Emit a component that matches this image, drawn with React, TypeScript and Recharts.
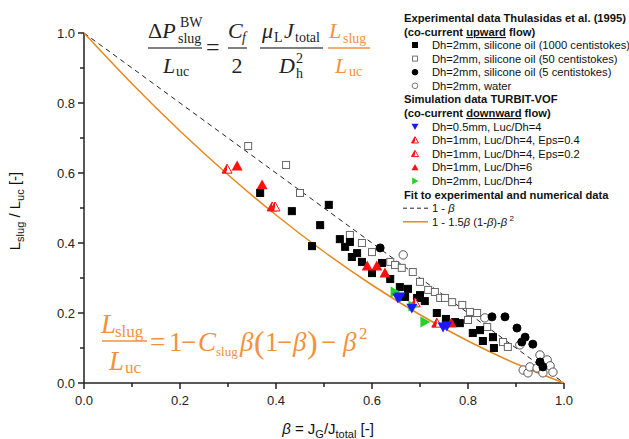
import React from "react";
import { ScatterChart, Scatter, XAxis, YAxis } from "recharts";

// beta = J_G / J_total, l = L_slug / L_uc
const oil1000 = [
  [0.367, 0.543], [0.433, 0.491], [0.475, 0.391], [0.492, 0.451], [0.51, 0.509],
  [0.533, 0.411], [0.544, 0.389], [0.554, 0.403], [0.558, 0.36], [0.569, 0.371],
  [0.579, 0.346], [0.6, 0.314], [0.621, 0.343], [0.638, 0.297], [0.658, 0.274],
  [0.669, 0.246], [0.675, 0.269], [0.694, 0.243], [0.7, 0.251], [0.71, 0.234],
  [0.735, 0.2], [0.754, 0.183], [0.773, 0.174], [0.783, 0.171], [0.81, 0.143],
  [0.825, 0.151], [0.831, 0.12], [0.852, 0.131], [0.854, 0.1],
];
const oil50 = [
  [0.342, 0.677], [0.421, 0.623], [0.45, 0.543], [0.554, 0.423], [0.579, 0.4],
  [0.6, 0.374], [0.638, 0.346], [0.648, 0.337], [0.662, 0.329], [0.685, 0.317],
  [0.7, 0.289], [0.717, 0.266], [0.731, 0.26], [0.742, 0.243], [0.752, 0.243],
  [0.767, 0.231], [0.788, 0.223], [0.8, 0.18], [0.804, 0.203], [0.819, 0.2],
  [0.84, 0.16], [0.873, 0.117], [0.883, 0.103],
];
const oil5 = [
  [0.617, 0.386], [0.85, 0.189], [0.877, 0.189], [0.902, 0.157], [0.912, 0.117],
  [0.919, 0.131], [0.935, 0.111], [0.95, 0.06], [0.956, 0.046],
];
const water = [
  [0.665, 0.366], [0.835, 0.186], [0.908, 0.109], [0.915, 0.037], [0.925, 0.029],
  [0.929, 0.046], [0.944, 0.043], [0.95, 0.08], [0.956, 0.029], [0.965, 0.066],
  [0.971, 0.049], [0.977, 0.031],
];
const sim05 = [[0.654, 0.243], [0.658, 0.246], [0.683, 0.214], [0.748, 0.16], [0.756, 0.163]];
const sim1Eps04 = [[0.298, 0.611], [0.392, 0.503], [0.735, 0.171]];
const sim1Eps02 = [[0.398, 0.503], [0.69, 0.229]];
const sim1Luc6 = [[0.319, 0.62], [0.371, 0.566], [0.59, 0.334], [0.61, 0.334], [0.627, 0.314], [0.765, 0.171]];
const sim2 = [[0.648, 0.26], [0.685, 0.22], [0.71, 0.174]];

const fitLinear = [[0, 1], [1, 0]];
const fitSlug = [
  [0, 1], [0.1, 0.855], [0.2, 0.72], [0.3, 0.595], [0.4, 0.48], [0.5, 0.375],
  [0.6, 0.28], [0.7, 0.195], [0.8, 0.12], [0.9, 0.055], [1, 0],
];
const axisTicks = [0, 0.1, 0.2, 0.3, 0.4, 0.5, 0.6, 0.7, 0.8, 0.9, 1];

const toRows = (pts: number[][]) => pts.map(([b, l]) => ({ b, l }));

const ORANGE = "#e5891f";
const ORANGE_TEXT = "#f3923a";
const BLUE = "#1a1aff";
const RED = "#ff1010";
const GREEN = "#27d027";
const SANS = "'Liberation Sans', Arial, sans-serif";
const SERIF = "'Liberation Serif', 'Times New Roman', serif";

// marker drawers, shared by plot and legend
const square = (fill: string, stroke: string, s: number) => (p: any) => (
  <rect x={p.cx - s / 2} y={p.cy - s / 2} width={s} height={s} fill={fill} stroke={stroke} strokeWidth={1} />
);
const circle = (fill: string, stroke: string, r: number) => (p: any) => (
  <circle cx={p.cx} cy={p.cy} r={r} fill={fill} stroke={stroke} strokeWidth={1} />
);
const triUp = (color: string, s: number) => (p: any) => (
  <polygon points={`${p.cx},${p.cy - s} ${p.cx + s},${p.cy + s * 0.8} ${p.cx - s},${p.cy + s * 0.8}`} fill={color} />
);
const triDown = (color: string, s: number) => (p: any) => (
  <polygon points={`${p.cx - s},${p.cy - s * 0.8} ${p.cx + s},${p.cy - s * 0.8} ${p.cx},${p.cy + s}`} fill={color} />
);
const triRight = (color: string, s: number) => (p: any) => (
  <polygon points={`${p.cx - s * 0.8},${p.cy - s} ${p.cx + s},${p.cy} ${p.cx - s * 0.8},${p.cy + s}`} fill={color} />
);
const triHalf = (color: string, s: number) => (p: any) => (
  <g>
    <polygon points={`${p.cx},${p.cy - s} ${p.cx + s},${p.cy + s * 0.8} ${p.cx - s},${p.cy + s * 0.8}`} fill="#fff" stroke={color} strokeWidth={1} />
    <polygon points={`${p.cx},${p.cy - s} ${p.cx - s},${p.cy + s * 0.8} ${p.cx - s * 0.2},${p.cy + s * 0.8} ${p.cx},${p.cy}`} fill={color} />
  </g>
);
const noDot = () => <g />;

const XTick = (props: any) => {
  const { x, y, payload } = props;
  const major = Math.round(payload.value * 10) % 2 === 0;
  return (
    <g>
      <line x1={x} x2={x} y1={y} y2={y + (major ? 6 : 4)} stroke="#222" strokeWidth={1.5} />
      {major && (
        <text x={x} y={y + 22} textAnchor="middle" fontFamily={SANS} fontSize={13} fill="#222">
          {payload.value.toFixed(1)}
        </text>
      )}
    </g>
  );
};

const YTick = (props: any) => {
  const { x, y, payload } = props;
  const major = Math.round(payload.value * 10) % 2 === 0;
  return (
    <g>
      <line x1={x - (major ? 6 : 4)} x2={x} y1={y} y2={y} stroke="#222" strokeWidth={1.5} />
      {major && (
        <text x={x - 9} y={y + 4.5} textAnchor="end" fontFamily={SANS} fontSize={13} fill="#222">
          {payload.value.toFixed(1)}
        </text>
      )}
    </g>
  );
};

function LegendBox() {
  const hx = 404;
  const sx = 415;
  const tx = 432;
  const step = 13.6;
  const fs = 11.2;
  const c = (i: number) => 45 + i * step;
  const txt = (i: number, s: React.ReactNode, bold = false, x = tx) => (
    <text x={x} y={c(i) + 4} fontFamily={SANS} fontSize={fs} fontWeight={bold ? 700 : 400} fill="#111">
      {s}
    </text>
  );
  return (
    <g>
      <text x={hx} y={22} fontFamily={SANS} fontSize={fs} fontWeight={700} fill="#111">
        Experimental data Thulasidas et al. (1995)
      </text>
      <text x={hx} y={36} fontFamily={SANS} fontSize={fs} fontWeight={700} fill="#111">
        (co-current <tspan style={{ textDecoration: "underline" }}>upward</tspan> flow)
      </text>
      {square("#000", "#000", 5)({ cx: sx, cy: c(0) })}
      {txt(0, "Dh=2mm, silicone oil (1000 centistokes)")}
      {square("#fff", "#777", 5)({ cx: sx, cy: c(1) })}
      {txt(1, "Dh=2mm, silicone oil (50 centistokes)")}
      {circle("#000", "#000", 2.8)({ cx: sx, cy: c(2) })}
      {txt(2, "Dh=2mm, silicone oil (5 centistokes)")}
      {circle("#fff", "#777", 2.8)({ cx: sx, cy: c(3) })}
      {txt(3, "Dh=2mm, water")}
      {txt(4, "Simulation data TURBIT-VOF", true, hx)}
      <text x={hx} y={c(5) + 4} fontFamily={SANS} fontSize={fs} fontWeight={700} fill="#111">
        (co-current <tspan style={{ textDecoration: "underline" }}>downward</tspan> flow)
      </text>
      {triDown(BLUE, 3.5)({ cx: sx, cy: c(6) })}
      {txt(6, "Dh=0.5mm, Luc/Dh=4")}
      {triHalf(RED, 3.5)({ cx: sx, cy: c(7) })}
      {txt(7, "Dh=1mm, Luc/Dh=4, Eps=0.4")}
      {triHalf(RED, 3.5)({ cx: sx, cy: c(8) })}
      {txt(8, "Dh=1mm, Luc/Dh=4, Eps=0.2")}
      {triUp(RED, 3.5)({ cx: sx, cy: c(9) })}
      {txt(9, "Dh=1mm, Luc/Dh=6")}
      {triRight(GREEN, 3.5)({ cx: sx, cy: c(10) })}
      {txt(10, "Dh=2mm, Luc/Dh=4")}
      {txt(11, "Fit to experimental and numerical data", true, hx)}
      <line x1={403} x2={428} y1={c(12)} y2={c(12)} stroke="#222" strokeWidth={1} strokeDasharray="4 3" />
      <text x={tx} y={c(12) + 4} fontFamily={SANS} fontSize={fs} fill="#111">
        1 - <tspan fontStyle="italic">β</tspan>
      </text>
      <line x1={403} x2={428} y1={c(13)} y2={c(13)} stroke={ORANGE} strokeWidth={1.5} />
      <text x={tx} y={c(13) + 4} fontFamily={SANS} fontSize={fs} fill="#111">
        1 - 1.5<tspan fontStyle="italic">β</tspan> (1-<tspan fontStyle="italic">β</tspan>)-<tspan fontStyle="italic">β</tspan>
        <tspan fontSize={8} dy={-5}> 2</tspan>
      </text>
    </g>
  );
}

function Equations() {
  const dark = "#222";
  return (
    <g fontFamily={SERIF}>
      {/* pressure drop relation */}
      <text x={148} y={38} fontSize={22} fill={dark}>
        Δ<tspan fontStyle="italic">P</tspan>
      </text>
      <text x={180} y={27} fontSize={14} fill={dark}>BW</text>
      <text x={178} y={43} fontSize={14} fill={dark}>slug</text>
      <line x1={148} x2={202} y1={48} y2={48} stroke="#555" strokeWidth={1.5} />
      <text x={163} y={73} fontSize={22} fontStyle="italic" fill={dark}>L</text>
      <text x={176} y={76} fontSize={14} fill={dark}>uc</text>
      <text x={206} y={55} fontSize={24} fill={dark}>=</text>
      <text x={228} y={38} fontSize={22} fontStyle="italic" fill={dark}>C</text>
      <text x={242} y={42} fontSize={14} fontStyle="italic" fill={dark}>f</text>
      <line x1={228} x2={247} y1={48} y2={48} stroke="#555" strokeWidth={1.5} />
      <text x={237} y={73} fontSize={22} textAnchor="middle" fill={dark}>2</text>
      <text x={262} y={38} fontSize={22} fontStyle="italic" fill={dark}>μ</text>
      <text x={274} y={42} fontSize={14} fill={dark}>L</text>
      <text x={284} y={38} fontSize={22} fontStyle="italic" fill={dark}>J</text>
      <text x={295} y={42} fontSize={14} fill={dark}>total</text>
      <line x1={260} x2={323} y1={48} y2={48} stroke="#555" strokeWidth={1.5} />
      <text x={279} y={73} fontSize={22} fontStyle="italic" fill={dark}>D</text>
      <text x={296} y={63} fontSize={14} fill={dark}>2</text>
      <text x={296} y={78} fontSize={14} fill={dark}>h</text>
      <text x={329} y={38} fontSize={22} fontStyle="italic" fill={ORANGE_TEXT}>L</text>
      <text x={343} y={43} fontSize={14} fill={ORANGE_TEXT}>slug</text>
      <line x1={328} x2={370} y1={48} y2={48} stroke={ORANGE_TEXT} strokeWidth={1.5} />
      <text x={335} y={73} fontSize={22} fontStyle="italic" fill={ORANGE_TEXT}>L</text>
      <text x={349} y={76} fontSize={14} fill={ORANGE_TEXT}>uc</text>

      {/* slug length relation */}
      <g fill={ORANGE_TEXT}>
        <text x={101} y={333} fontSize={27} fontStyle="italic">L</text>
        <text x={115} y={337} fontSize={17}>slug</text>
        <line x1={102} x2={147} y1={341} y2={341} stroke={ORANGE_TEXT} strokeWidth={1.5} />
        <text x={109} y={370} fontSize={27} fontStyle="italic">L</text>
        <text x={125} y={373} fontSize={17}>uc</text>
        <text x={150} y={351} fontSize={27}>=</text>
        <text x={169} y={351} fontSize={27}>1</text>
        <text x={181} y={351} fontSize={27}>−</text>
        <text x={198} y={351} fontSize={27} fontStyle="italic">C</text>
        <text x={216} y={356} fontSize={13}>slug</text>
        <text x={240} y={351} fontSize={27} fontStyle="italic">β</text>
        <text x={254} y={353} fontSize={32}>(</text>
        <text x={265} y={351} fontSize={27}>1</text>
        <text x={277} y={351} fontSize={27}>−</text>
        <text x={293} y={351} fontSize={27} fontStyle="italic">β</text>
        <text x={307} y={353} fontSize={32}>)</text>
        <text x={321} y={351} fontSize={27}>−</text>
        <text x={343} y={351} fontSize={27} fontStyle="italic">β</text>
        <text x={359} y={339} fontSize={17}>2</text>
      </g>
    </g>
  );
}

function AxisTitles() {
  return (
    <g fontFamily={SANS} fill="#111">
      <text x={328} y={434} fontSize={15} textAnchor="middle">
        <tspan fontStyle="italic">β</tspan> = J<tspan fontSize={11} dy={4}>G</tspan>
        <tspan dy={-4}>/J</tspan>
        <tspan fontSize={11} dy={4}>total</tspan>
        <tspan dy={-4}> [-]</tspan>
      </text>
      <text transform="translate(20,211) rotate(-90)" fontSize={15} textAnchor="middle">
        L<tspan fontSize={11} dy={4}>slug</tspan>
        <tspan dy={-4}> / L</tspan>
        <tspan fontSize={11} dy={4}>uc</tspan>
        <tspan dy={-4}>  [-]</tspan>
      </text>
    </g>
  );
}

export default function App() {
  return (
    <div style={{ position: "absolute", left: 0, top: 0, width: 629, height: 439, background: "#fff" }}>
      <ScatterChart width={629} height={439} margin={{ top: 33, right: 65, bottom: 26, left: 24 }}>
        <XAxis
          type="number"
          dataKey="b"
          domain={[0, 1]}
          ticks={axisTicks}
          interval={0}
          tickSize={0}
          tickMargin={0}
          tickLine={false}
          tick={<XTick />}
          height={30}
          axisLine={{ stroke: "#222", strokeWidth: 1.5 }}
        />
        <YAxis
          type="number"
          dataKey="l"
          domain={[0, 1]}
          ticks={axisTicks}
          interval={0}
          tickSize={0}
          tickMargin={0}
          tickLine={false}
          tick={<YTick />}
          width={60}
          axisLine={{ stroke: "#222", strokeWidth: 1.5 }}
        />
        <Scatter data={toRows(fitLinear)} line={{ stroke: "#222", strokeWidth: 1, strokeDasharray: "5 4" }} shape={noDot} isAnimationActive={false} />
        <Scatter data={toRows(fitSlug)} line={{ stroke: ORANGE, strokeWidth: 1.5 }} lineJointType="monotoneX" shape={noDot} isAnimationActive={false} />
        <Scatter data={toRows(oil50)} shape={square("#fff", "#666", 7)} isAnimationActive={false} />
        <Scatter data={toRows(water)} shape={circle("#fff", "#555", 4.2)} isAnimationActive={false} />
        <Scatter data={toRows(oil1000)} shape={square("#000", "#000", 7)} isAnimationActive={false} />
        <Scatter data={toRows(oil5)} shape={circle("#000", "#000", 4)} isAnimationActive={false} />
        <Scatter data={toRows(sim1Eps04)} shape={triHalf(RED, 5)} isAnimationActive={false} />
        <Scatter data={toRows(sim1Eps02)} shape={triHalf(RED, 5)} isAnimationActive={false} />
        <Scatter data={toRows(sim1Luc6)} shape={triUp(RED, 5.5)} isAnimationActive={false} />
        <Scatter data={toRows(sim2)} shape={triRight(GREEN, 5.5)} isAnimationActive={false} />
        <Scatter data={toRows(sim05)} shape={triDown(BLUE, 5.5)} isAnimationActive={false} />
      </ScatterChart>
      <svg width={629} height={439} style={{ position: "absolute", left: 0, top: 0, pointerEvents: "none" }}>
        <Equations />
        <LegendBox />
        <AxisTitles />
      </svg>
    </div>
  );
}
